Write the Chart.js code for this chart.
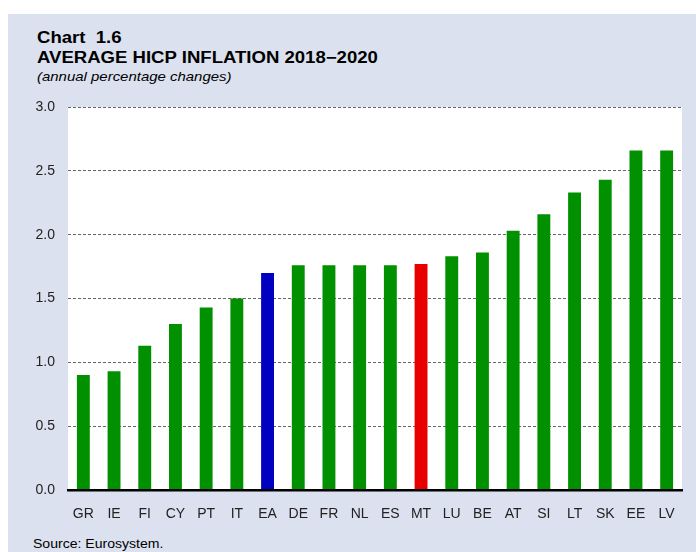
<!DOCTYPE html>
<html>
<head>
<meta charset="utf-8">
<script src="https://cdn.jsdelivr.net/npm/chart.js@4/dist/chart.umd.min.js"></script>
<style>
    html, body { margin: 0; padding: 0; background: #ffffff; }
    body { width: 696px; height: 552px; position: relative; overflow: hidden; font-family: "Liberation Sans", Arial, sans-serif; }
    #panel { position: absolute; left: 8px; top: 14px; width: 688px; height: 538px; background: #dbe1ee; }
    #chartWrap { position: absolute; left: 0; top: 0; width: 696px; height: 552px; }
    .txt { position: absolute; left: 37px; color: #000; white-space: nowrap; transform-origin: left top; }
    #t1 { top: 30px; font-size: 16px; line-height: 16px; font-weight: bold; transform: scaleX(1.16); }
    #t2 { top: 50px; font-size: 16px; line-height: 16px; font-weight: bold; transform: scaleX(1.16); }
    #t3 { top: 70px; font-size: 13px; line-height: 13px; font-style: italic; transform: scaleX(1.15); }
    #src { top: 538px; left: 33px; font-size: 12px; line-height: 12px; transform: scaleX(1.17); }
</style>
</head>
<body>
<div id="panel"></div>
<div class="txt" id="t1">Chart&nbsp; 1.6</div>
<div class="txt" id="t2">AVERAGE HICP INFLATION 2018−2020</div>
<div class="txt" id="t3">(annual percentage changes)</div>
<div class="txt" id="src">Source: Eurosystem.</div>
<div id="chartWrap"><canvas id="hicpChart" width="696" height="552"></canvas></div>
<script>
// Dữ liệu
const countries = ['GR', 'IE', 'FI', 'CY', 'PT', 'IT', 'EA', 'DE', 'FR', 'NL', 'ES', 'MT', 'LU', 'BE', 'AT', 'SI', 'LT', 'SK', 'EE', 'LV'];
const inflation = [0.90, 0.93, 1.13, 1.30, 1.43, 1.50, 1.70, 1.76, 1.76, 1.76, 1.76, 1.77, 1.83, 1.86, 2.03, 2.16, 2.33, 2.43, 2.66, 2.66];
const yTicks = [0.0, 0.5, 1.0, 1.5, 2.0, 2.5, 3.0];

document.addEventListener('DOMContentLoaded', function() {
    const barColors = countries.map(c => c === 'EA' ? '#0000c0' : (c === 'MT' ? '#e80000' : '#009000'));

    // nền trắng cho vùng vẽ
    const plotBg = {
        id: 'plotBg',
        beforeDraw(chart) {
            const a = chart.chartArea;
            const ctx = chart.ctx;
            ctx.save();
            ctx.fillStyle = '#ffffff';
            ctx.fillRect(a.left, a.top, a.right - a.left, a.bottom - a.top);
            ctx.restore();
        }
    };

    const ctx = document.getElementById('hicpChart').getContext('2d');
    new Chart(ctx, {
        type: 'bar',
        data: {
            labels: countries,
            datasets: [{
                data: inflation,
                backgroundColor: barColors,
                borderWidth: 0,
                categoryPercentage: 1.0,
                barPercentage: 0.42
            }]
        },
        options: {
            responsive: false,
            animation: false,
            layout: { padding: { top: 107, right: 14, left: 0, bottom: 0 } },
            plugins: {
                legend: { display: false },
                tooltip: { enabled: false }
            },
            scales: {
                x: {
                    grid: { display: false },
                    border: { display: true, color: '#000000', width: 2.5, z: 1 },
                    ticks: { color: '#222222', font: { family: 'Liberation Sans', size: 14 }, padding: 8, maxRotation: 0 },
                    afterFit(scale) { scale.height = 62; }
                },
                y: {
                    min: 0,
                    max: 3,
                    afterBuildTicks(scale) { scale.ticks = yTicks.map(v => ({ value: v })); },
                    grid: {
                        color: '#666666',
                        lineWidth: 1,
                        drawTicks: false
                    },
                    border: { display: false, dash: [3, 2] },
                    ticks: {
                        color: '#222222',
                        font: { family: 'Liberation Sans', size: 14 },
                        padding: 13,
                        callback: v => Number(v).toFixed(1)
                    },
                    afterFit(scale) { scale.width = 68; }
                }
            }
        },
        plugins: [plotBg]
    });
});
</script>
</body>
</html>
